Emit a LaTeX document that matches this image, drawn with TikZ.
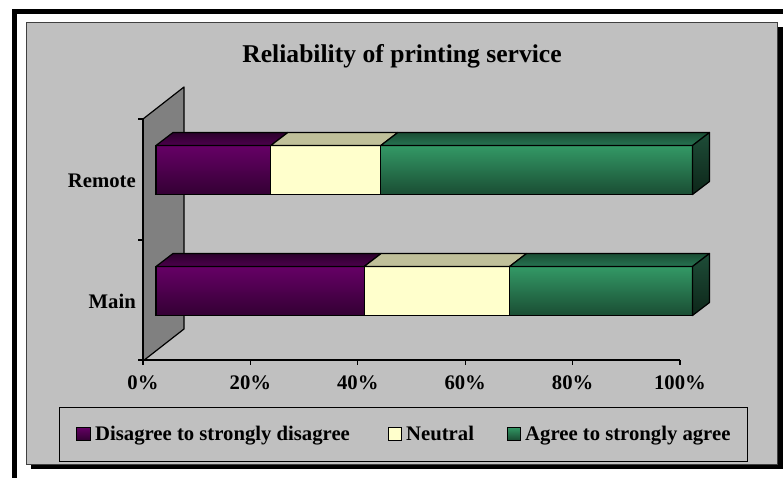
\documentclass[tikz,border=0pt]{standalone}
\usepackage{fontspec}
\setmainfont{Liberation Serif}
\definecolor{chartbg}{HTML}{C0C0C0}
\definecolor{wallgray}{HTML}{808080}
\definecolor{framegray}{HTML}{404040}
\definecolor{purpT}{HTML}{660066}
\definecolor{purpB}{HTML}{330033}
\definecolor{purpTopF}{HTML}{4D004D}
\definecolor{purpTopB}{HTML}{2B002B}
\definecolor{neutF}{HTML}{FFFFCC}
\definecolor{neutTop}{HTML}{C0C09A}
\definecolor{grnT}{HTML}{339966}
\definecolor{grnB}{HTML}{1A4D33}
\definecolor{grnTopF}{HTML}{267352}
\definecolor{grnTopB}{HTML}{1A4D33}
\definecolor{grnSideT}{HTML}{1E4D38}
\definecolor{grnSideB}{HTML}{0D2619}
\newcommand\lblfont{\fontsize{20.7}{24}\selectfont\bfseries}
\newcommand\ttlfont{\fontsize{25.6}{30}\selectfont\bfseries}
% #1 top y, #2 bottom y, #3 start %, #4 end %, #5/#6 front top/bottom colour, #7/#8 top-face back/front colour
\newcommand\barseg[8]{%
  \pgfmathsetmacro\xa{156+5.365*#3}%
  \pgfmathsetmacro\xb{156+5.365*#4}%
  \shade[top color=#5,bottom color=#6,draw=black,line width=1.2pt] (\xa,#1) rectangle (\xb,#2);
  \shade[top color=#7,bottom color=#8,draw=black,line width=1.2pt,line join=round]
    (\xa,#1) -- ({\xa+17},{#1-13}) -- ({\xb+17},{#1-13}) -- (\xb,#1) -- cycle;
}
\newcommand\barend[2]{%
  \shade[top color=grnSideT,bottom color=grnSideB,draw=black,line width=1.2pt,line join=round]
    (692.5,#1) -- (709.5,{#1-13}) -- (709.5,{#2-13}) -- (692.5,#2) -- cycle;
}
\tikzset{
  lbl/.style={font=\lblfont,inner sep=0pt},
  legsq/.style={draw=black,line width=1pt},
}
\begin{document}
\begin{tikzpicture}[x=1pt,y=-1pt]
\useasboundingbox (0,0) rectangle (783,477);
\clip (0,0) rectangle (783,477);
% outer black frame
\draw[line width=5pt] (14.5,11.5) rectangle (820,520);
% chart area with shadow
\fill[black] (31,27) rectangle (783,469);
\fill[chartbg] (26,22) rectangle (777,464);
\draw[framegray,line width=1pt] (26.5,22.5) rectangle (777,464);
% title
\node[font=\ttlfont,inner sep=0pt,anchor=base] (title) at (402,62) {Reliability of printing service};
% back wall
\fill[wallgray] (143,119) -- (184,87) -- (184,329) -- (143,361) -- cycle;
\draw[line width=1.2pt,line join=round] (143,119) -- (184,87) -- (184,329) -- (143,361);
% y axis
\draw[line width=1.2pt] (143,119) -- (143,361);
\foreach \yy in {119,240,360} \draw[line width=1.2pt] (138,\yy) -- (143,\yy);
% x axis
\draw[line width=1.2pt] (143,360) -- (680,360);
\foreach \k/\t in {0/0\%,1/20\%,2/40\%,3/60\%,4/80\%,5/100\%}{
  \draw[line width=1.2pt] ({143+107.4*\k},360) -- ({143+107.4*\k},365);
  \node[lbl,anchor=base] (tick\k) at ({143+107.4*\k},389) {\t};
}
% category labels
\node[lbl,anchor=base east] (lremote) at (136,187) {Remote};
\node[lbl,anchor=base east] (lmain) at (136,308) {Main};
% Remote bar
\barseg{145.5}{194.5}{0}{21.4}{purpT}{purpB}{purpTopB}{purpTopF}
\barseg{145.5}{194.5}{21.4}{41.9}{neutF}{neutF}{neutTop}{neutTop}
\barseg{145.5}{194.5}{41.9}{100}{grnT}{grnB}{grnTopB}{grnTopF}
\barend{145.5}{194.5}
% Main bar
\barseg{266.5}{315.5}{0}{38.8}{purpT}{purpB}{purpTopB}{purpTopF}
\barseg{266.5}{315.5}{38.8}{65.9}{neutF}{neutF}{neutTop}{neutTop}
\barseg{266.5}{315.5}{65.9}{100}{grnT}{grnB}{grnTopB}{grnTopF}
\barend{266.5}{315.5}
% legend
\draw[line width=1pt] (59,407) rectangle (747,461);
\shade[legsq,top color=purpT,bottom color=purpB] (76,427) rectangle (90,440);
\node[lbl,anchor=base west] (leg1) at (95,440) {Disagree to strongly disagree};
\fill[legsq,fill=neutF] (388,427) rectangle (401,440);
\node[lbl,anchor=base west] (leg2) at (406,440) {Neutral};
\shade[legsq,top color=grnT,bottom color=grnB] (507,427) rectangle (520,440);
\node[lbl,anchor=base west] (leg3) at (525,440) {Agree to strongly agree};
\end{tikzpicture}
\end{document}
